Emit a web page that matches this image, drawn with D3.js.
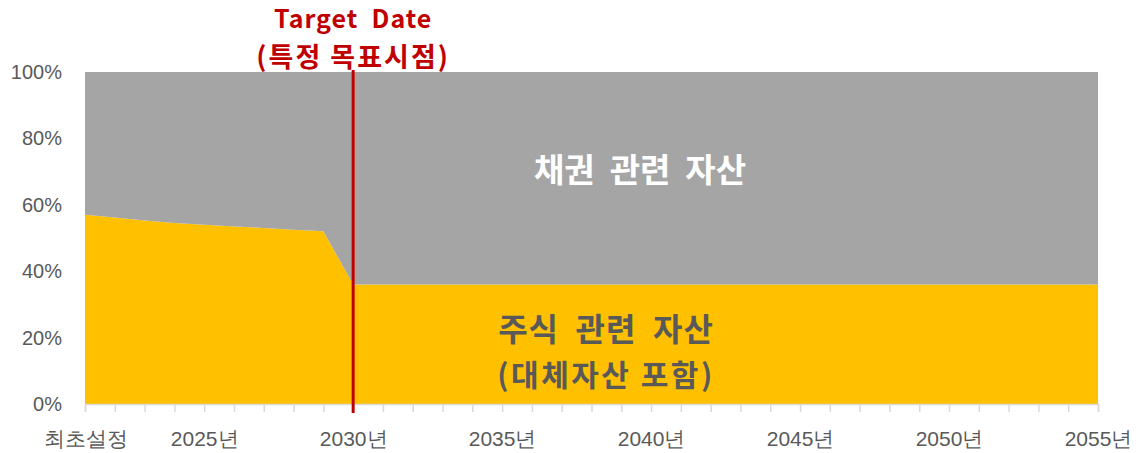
<!DOCTYPE html>
<html>
<head lang="ko">
    <meta charset="UTF-8">
    <title></title>
    <script src="https://cdn.jsdelivr.net/npm/d3@7/dist/d3.min.js"></script>
    <style>
        body{ margin:0; background:#fff; }
        svg{ display:block; font-family:"Noto Sans CJK KR","Noto Sans",sans-serif; }
        .tick-label{ fill:#595959; font-size:20px; }
        .x-label{ font-size:21px; }
    </style>
</head>
<body>
<svg width="1138" height="453"></svg>
</body>
</html>
<script>
    // 카테고리 (최초설정 = 2021)
    var categories = ["최초설정", "2022년", "2023년", "2024년", "2025년", "2026년", "2027년", "2028년", "2029년", "2030년",
        "2031년", "2032년", "2033년", "2034년", "2035년", "2036년", "2037년", "2038년", "2039년", "2040년",
        "2041년", "2042년", "2043년", "2044년", "2045년", "2046년", "2047년", "2048년", "2049년", "2050년",
        "2051년", "2052년", "2053년", "2054년", "2055년"];
    var shownLabels = ["최초설정", "2025년", "2030년", "2035년", "2040년", "2045년", "2050년", "2055년"];
    var stockShare = [57, 56.2, 55.3, 54.5, 54, 53.5, 53, 52.5, 52, 36,
        36, 36, 36, 36, 36, 36, 36, 36, 36, 36,
        36, 36, 36, 36, 36, 36, 36, 36, 36, 36,
        36, 36, 36, 36, 36];
    var bondShare = [43, 43.8, 44.7, 45.5, 46, 46.5, 47, 47.5, 48, 64,
        64, 64, 64, 64, 64, 64, 64, 64, 64, 64,
        64, 64, 64, 64, 64, 64, 64, 64, 64, 64,
        64, 64, 64, 64, 64];
    var yTicks = [0, 20, 40, 60, 80, 100];
    var targetCategory = "2030년";

    var padding = {top: 72, right: 40, bottom: 49, left: 85};
    var width = 1138, height = 453;
    var svg = d3.select("svg");

    var xScale = d3.scalePoint()
            .domain(categories)
            .range([padding.left, width - padding.right]);
    var yScale = d3.scaleLinear()
            .domain([0, 100])
            .range([height - padding.bottom, padding.top]);

    var rows = categories.map(function (c, i) {
        return {cat: c, stock: stockShare[i], bond: bondShare[i]};
    });
    var stack = d3.stack().keys(["stock", "bond"]);
    var series = stack(rows);
    var colors = {stock: "#FFC000", bond: "#A5A5A5"};

    var area = d3.area()
            .x(function (d) { return xScale(d.data.cat); })
            .y0(function (d) { return yScale(d[0]); })
            .y1(function (d) { return yScale(d[1]); });

    svg.append("g")
            .selectAll("path")
            .data(series)
            .enter()
            .append("path")
            .attr("d", area)
            .attr("fill", function (d) { return colors[d.key]; });

    // x축
    var xAxis = d3.axisBottom(xScale)
            .tickSize(8)
            .tickPadding(19)
            .tickFormat(function (d) { return shownLabels.indexOf(d) >= 0 ? d : ""; });
    var gx = svg.append("g")
            .attr("transform", "translate(0," + yScale(0) + ")")
            .call(xAxis);
    gx.select(".domain").attr("stroke", "#D9D9D9").attr("stroke-width", 1.5);
    gx.selectAll(".tick line").attr("stroke", "#D9D9D9").attr("stroke-width", 1.5);
    gx.selectAll(".tick text").attr("class", "tick-label x-label").attr("font-family", null).attr("font-size", null);

    // y축
    var yAxis = d3.axisLeft(yScale)
            .tickValues(yTicks)
            .tickSize(0)
            .tickPadding(23)
            .tickFormat(function (d) { return d + "%"; });
    var gy = svg.append("g")
            .attr("transform", "translate(" + padding.left + ",0)")
            .call(yAxis);
    gy.select(".domain").remove();
    gy.selectAll(".tick text").attr("class", "tick-label").attr("font-family", null).attr("font-size", null);

    // Target Date 선
    var tx = xScale(targetCategory);
    svg.append("line")
            .attr("x1", tx).attr("x2", tx)
            .attr("y1", 70).attr("y2", yScale(0) + 9)
            .attr("stroke", "#C00000")
            .attr("stroke-width", 3);

    var title = svg.append("text")
            .attr("text-anchor", "middle")
            .attr("fill", "#C00000")
            .attr("font-weight", "bold")
            .attr("xml:space", "preserve");
    title.append("tspan")
            .attr("x", tx).attr("y", 28)
            .attr("font-size", 25)
            .attr("letter-spacing", 1)
            .text("Target  Date");
    title.append("tspan")
            .attr("x", tx).attr("y", 67)
            .attr("font-size", 27)
            .attr("letter-spacing", 2)
            .text("(특정 목표시점)");

    // 영역 라벨
    svg.append("text")
            .attr("x", 640).attr("y", 182)
            .attr("text-anchor", "middle")
            .attr("fill", "#ffffff")
            .attr("font-weight", "bold")
            .attr("font-size", 33)
            .attr("xml:space", "preserve")
            .text("채권  관련  자산");

    var stockLabel = svg.append("text")
            .attr("text-anchor", "middle")
            .attr("fill", "#595959")
            .attr("font-weight", "bold")
            .attr("xml:space", "preserve");
    stockLabel.append("tspan")
            .attr("x", 606).attr("y", 341)
            .attr("font-size", 32)
            .attr("letter-spacing", 1)
            .text("주식  관련  자산");
    stockLabel.append("tspan")
            .attr("x", 606).attr("y", 386)
            .attr("font-size", 30)
            .attr("letter-spacing", 2.5)
            .text("(대체자산 포함)");
</script>
